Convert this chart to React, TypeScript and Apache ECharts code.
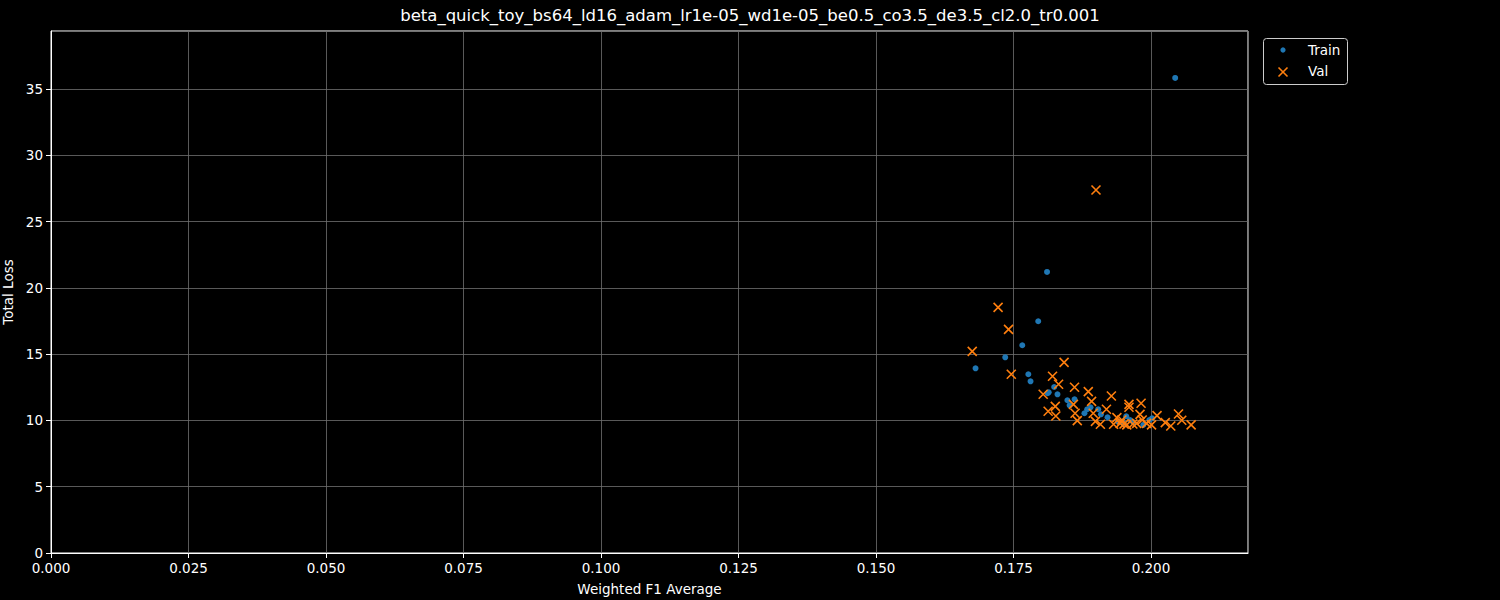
import React, { useEffect, useRef } from "react";
import * as echarts from "echarts";

const TITLE = "beta_quick_toy_bs64_ld16_adam_lr1e-05_wd1e-05_be0.5_co3.5_de3.5_cl2.0_tr0.001";

const trainF1 = [0.2044, 0.1811, 0.1795, 0.1766, 0.1735, 0.1681, 0.1777, 0.1781, 0.1814, 0.1812, 0.1824, 0.1830, 0.1848, 0.1852, 0.1861, 0.1879, 0.1884, 0.1890, 0.1904, 0.1909, 0.1921, 0.1955, 0.1962, 0.1986, 0.1997, 0.2002, 0.1940, 0.1950, 0.1968];
const trainLoss = [35.83, 21.2, 17.48, 15.67, 14.76, 13.93, 13.48, 12.95, 12.12, 12.05, 12.52, 11.97, 11.52, 11.14, 11.59, 10.54, 10.84, 10.99, 10.84, 10.46, 10.24, 10.31, 10.03, 9.66, 10.03, 10.16, 9.9, 9.8, 9.85];

const valF1 = [0.1900, 0.1722, 0.1741, 0.1675, 0.1842, 0.1746, 0.1821, 0.1832, 0.1861, 0.1804, 0.1886, 0.1928, 0.1892, 0.1826, 0.1813, 0.1827, 0.1859, 0.1862, 0.1866, 0.1895, 0.1899, 0.1908, 0.1919, 0.1932, 0.1938, 0.1944, 0.1951, 0.1960, 0.1960, 0.1982, 0.1980, 0.1974, 0.1984, 0.2001, 0.2011, 0.2026, 0.2036, 0.2050, 0.2056, 0.2073, 0.1947, 0.1956, 0.1967, 0.1992];
const valLoss = [27.38, 18.53, 16.87, 15.21, 14.38, 13.48, 13.33, 12.73, 12.5, 11.97, 12.17, 11.84, 11.44, 11.06, 10.69, 10.33, 11.21, 10.54, 9.98, 10.54, 9.93, 9.71, 10.84, 9.71, 10.21, 9.78, 9.73, 11.21, 10.99, 11.29, 10.46, 9.78, 10.03, 9.66, 10.36, 9.83, 9.58, 10.48, 10.01, 9.66, 10.03, 9.66, 9.73, 9.78];

const X_TICK_INTERVAL = 0.025;
const Y_TICK_INTERVAL = 5;

const FONT = "DejaVu Sans";
const X_PATH = "path://M0,0L10,10M10,0L0,10";

export default function App() {
  const ref = useRef<HTMLDivElement>(null);
  useEffect(() => {
    document.body.style.margin = "0";
    document.body.style.background = "#000";
    const chart = echarts.init(ref.current!, null, { renderer: "svg" });
    const axisCommon = {
      axisLine: { show: true, onZero: false, lineStyle: { color: "#ffffff", width: 1 } },
      axisTick: { show: true, length: 5, lineStyle: { color: "#ffffff" } },
      splitLine: { show: true, lineStyle: { color: "#707070", width: 0.8 } },
      nameTextStyle: { color: "#ffffff", fontFamily: FONT, fontSize: 13.5 },
    };
    chart.setOption({
      animation: false,
      backgroundColor: "#000000",
      title: {
        text: TITLE,
        left: "center",
        top: 2,
        textStyle: { color: "#ffffff", fontFamily: FONT, fontSize: 16.5, fontWeight: "normal" },
      },
      grid: { left: 51, right: 252, top: 31, bottom: 47, outerBoundsMode: "none", containLabel: false, show: true, borderColor: "#ffffff", borderWidth: 1, backgroundColor: "transparent" },
      xAxis: {
        type: "value",
        min: 0,
        max: 0.21764,
        interval: X_TICK_INTERVAL,
        name: "Weighted F1 Average",
        nameLocation: "middle",
        nameGap: 29,
        ...axisCommon,
        axisLabel: { color: "#ffffff", fontFamily: FONT, fontSize: 13.5, margin: 8, showMaxLabel: false, formatter: (v: number) => v.toFixed(3) },
      },
      yAxis: {
        type: "value",
        min: 0,
        max: 39.37,
        interval: Y_TICK_INTERVAL,
        name: "Total Loss",
        nameLocation: "middle",
        nameGap: 32,
        ...axisCommon,
        axisLabel: { color: "#ffffff", fontFamily: FONT, fontSize: 13.5, margin: 8, showMaxLabel: false },
      },
      series: [
        {
          name: "Train",
          type: "scatter",
          data: trainF1.map((x, i) => [x, trainLoss[i]]),
          symbol: "circle",
          symbolSize: 6,
          itemStyle: { color: "#1f77b4", opacity: 1 },
          z: 2,
        },
        {
          name: "Val",
          type: "scatter",
          data: valF1.map((x, i) => [x, valLoss[i]]),
          symbol: X_PATH,
          symbolSize: 9,
          itemStyle: { color: "none", borderColor: "#ff7f0e", borderWidth: 1.6, opacity: 1 },
          z: 3,
        },
      ],
      graphic: [
        {
          type: "rect",
          shape: { x: 1263.5, y: 38.5, width: 84, height: 46, r: 3 },
          style: { fill: "#000000", stroke: "#cccccc", lineWidth: 1 },
          z: 10,
        },
        {
          type: "circle",
          shape: { cx: 1283, cy: 50, r: 2.6 },
          style: { fill: "#1f77b4" },
          z: 11,
        },
        {
          type: "polyline",
          shape: { points: [[1278.5, 67.5], [1287.5, 76.5]] },
          style: { stroke: "#ff7f0e", lineWidth: 1.6 },
          z: 11,
        },
        {
          type: "polyline",
          shape: { points: [[1287.5, 67.5], [1278.5, 76.5]] },
          style: { stroke: "#ff7f0e", lineWidth: 1.6 },
          z: 11,
        },
        {
          type: "text",
          x: 1308,
          y: 50,
          style: { text: "Train", fill: "#ffffff", font: `13.5px ${FONT}`, verticalAlign: "middle" },
          z: 11,
        },
        {
          type: "text",
          x: 1308,
          y: 71,
          style: { text: "Val", fill: "#ffffff", font: `13.5px ${FONT}`, verticalAlign: "middle" },
          z: 11,
        },
      ],
    });
    return () => chart.dispose();
  }, []);
  return <div ref={ref} style={{ position: "absolute", left: 0, top: 0, width: 1500, height: 600 }} />;
}
